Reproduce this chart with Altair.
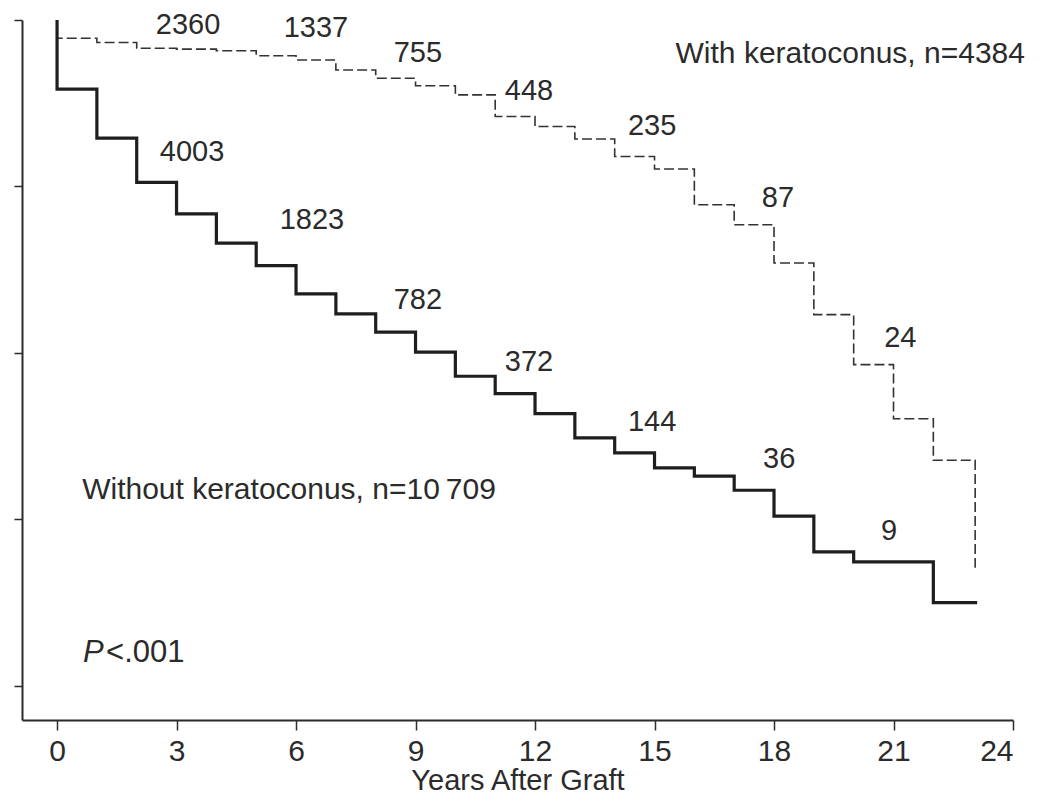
import altair as alt
import pandas as pd

FONT = "Liberation Sans"
INK = "#2b2b2b"

# Kaplan-Meier estimates (% graft survival), step at each year
without_years = [0, 0, 1, 2, 3, 4, 5, 6, 7, 8, 9, 10, 11, 12, 13, 14, 15, 16, 17, 18, 19, 20, 21, 22, 23.1]
without_surv = [100, 91.7, 85.8, 80.5, 76.7, 73.2, 70.5, 67.1, 64.7, 62.5, 60.1, 57.2, 55.1, 52.7,
                49.8, 48.0, 46.2, 45.2, 43.5, 40.4, 36.1, 34.9, 34.9, 30.0, 30.0]

with_years = [0, 0, 1, 2, 3, 4, 5, 6, 7, 8, 9, 10, 11, 12, 13, 14, 15, 16, 17, 18, 19, 20, 21, 22, 23.05]
with_surv = [100, 97.8, 97.3, 96.6, 96.5, 96.3, 95.7, 95.2, 94.0, 93.0, 92.1, 91.0, 88.4, 87.2,
             85.7, 83.6, 82.1, 77.8, 75.4, 70.8, 64.6, 58.6, 52.1, 47.1, 34.2]

# Numbers at risk
risk_with = ["2360", "1337", "755", "448", "235", "87", "24"]
risk_with_x = [3.29, 6.5, 9.06, 11.85, 14.94, 18.1, 21.17]
risk_with_y = [99.4, 99.0, 96.0, 91.5, 87.3, 78.6, 61.8]

risk_without = ["4003", "1823", "782", "372", "144", "36", "9"]
risk_without_x = [3.39, 6.4, 9.06, 11.85, 14.94, 18.13, 20.89]
risk_without_y = [84.1, 76.0, 66.4, 58.9, 51.7, 47.3, 38.6]

x_ticks = [0, 3, 6, 9, 12, 15, 18, 21, 24]
y_ticks = [20, 40, 60, 80, 100]

label_with = "With keratoconus, n=4384"
label_without = "Without keratoconus, n=10\u2009709"
p_letter = "P"
p_rest = "<.001"

df_without = pd.DataFrame({"x": without_years, "y": without_surv, "i": list(range(len(without_years)))})
df_with = pd.DataFrame({"x": with_years, "y": with_surv, "i": list(range(len(with_years)))})
df_rw = pd.DataFrame({"x": risk_with_x, "y": risk_with_y, "t": risk_with})
df_rwo = pd.DataFrame({"x": risk_without_x, "y": risk_without_y, "t": risk_without})

xs = alt.Scale(domain=[-0.88, 24], nice=False, zero=False)
ys = alt.Scale(domain=[15.9, 100], nice=False, zero=False)

x_axis = alt.Axis(values=x_ticks, grid=False, domainColor=INK, domainWidth=2, tickColor=INK,
                  tickWidth=1.5, tickSize=10, labelFont=FONT, labelFontSize=30, labelColor=INK,
                  labelPadding=6, title="Years After Graft", titleFont=FONT, titleFontSize=29,
                  titleFontWeight="normal", titleColor=INK, titlePadding=0)
y_axis = alt.Axis(values=y_ticks, grid=False, labels=False, domainColor=INK, domainWidth=2,
                  tickColor=INK, tickWidth=1.5, tickSize=8, title=None)


def X():
    return alt.X("x:Q", scale=xs, axis=x_axis)


def Y():
    return alt.Y("y:Q", scale=ys, axis=y_axis)


dashed = alt.Chart(df_with).mark_line(interpolate="step-after", strokeDash=[10, 4], strokeWidth=1.6,
                                      color="#333333").encode(x=X(), y=Y(), order="i:Q")
solid = alt.Chart(df_without).mark_line(interpolate="step-after", strokeWidth=3.2,
                                        color="#1e1e1e").encode(x=X(), y=Y(), order="i:Q")

txt_rw = alt.Chart(df_rw).mark_text(font=FONT, fontSize=29, color=INK, align="center",
                                    baseline="middle").encode(x=X(), y=Y(), text="t:N")
txt_rwo = alt.Chart(df_rwo).mark_text(font=FONT, fontSize=29, color=INK, align="center",
                                      baseline="middle").encode(x=X(), y=Y(), text="t:N")

ann_with = alt.Chart(pd.DataFrame({"x": [24.3], "y": [95.9], "t": [label_with]})).mark_text(
    font=FONT, fontSize=30, color=INK, align="right", baseline="middle").encode(x=X(), y=Y(), text="t:N")
ann_without = alt.Chart(pd.DataFrame({"x": [0.63], "y": [43.5], "t": [label_without]})).mark_text(
    font=FONT, fontSize=30, color=INK, align="left", baseline="middle").encode(x=X(), y=Y(), text="t:N")
ann_p = alt.Chart(pd.DataFrame({"x": [0.65], "y": [24.0], "t": [p_letter]})).mark_text(
    font=FONT, fontSize=31, fontStyle="italic", color=INK, align="left", baseline="middle").encode(
    x=X(), y=Y(), text="t:N")
ann_p2 = alt.Chart(pd.DataFrame({"x": [1.23], "y": [24.0], "t": [p_rest]})).mark_text(
    font=FONT, fontSize=31, color=INK, align="left", baseline="middle").encode(x=X(), y=Y(), text="t:N")

chart = alt.layer(dashed, solid, txt_rw, txt_rwo, ann_with, ann_without, ann_p, ann_p2).properties(
    width=991, height=700,
    padding={"left": 14, "top": 12, "right": 22, "bottom": 77},
    autosize=alt.AutoSizeParams(type="none"),
    background="white",
).configure_view(strokeWidth=0)

chart.save("out.html", embed_options={"renderer": "svg", "actions": False})
